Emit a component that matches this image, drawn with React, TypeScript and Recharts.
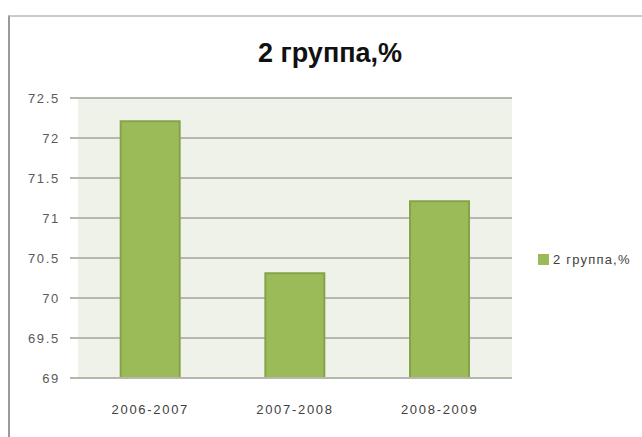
import React from 'react';
import { BarChart, Bar, XAxis, YAxis, CartesianGrid, Legend } from 'recharts';

const categories = ['2006-2007', '2007-2008', '2008-2009'];
const values = [72.21, 70.31, 71.21];
const yTicks = [69, 69.5, 70, 70.5, 71, 71.5, 72, 72.5];
const seriesName = '2 группа,%';
const title = '2 группа,%';

const data = categories.map((c, i) => ({ category: c, value: values[i] }));

const FONT = 'Arial, "Liberation Sans", sans-serif';

const LegendContent = () => (
  <div style={{ display: 'flex', alignItems: 'center', fontFamily: FONT, fontSize: 13, color: '#404040', letterSpacing: 1.2, whiteSpace: 'nowrap' }}>
    <span style={{ display: 'inline-block', width: 11, height: 11, background: '#9BBB59', marginRight: 4 }} />
    <span>{seriesName}</span>
  </div>
);

export default function App() {
  return (
    <div style={{ position: 'absolute', left: 0, top: 0, width: 642, height: 437, overflow: 'hidden', background: '#fff' }}>
      <div style={{ position: 'absolute', left: 8, top: 15, width: 700, height: 500, borderLeft: '2px solid #9a9a9a', borderTop: '2px solid #cacaca' }} />
      <div style={{ position: 'absolute', left: 0, top: 40, width: 660, textAlign: 'center', fontFamily: FONT, fontSize: 27, fontWeight: 'bold', lineHeight: '27px', color: '#111' }}>
        {title}
      </div>
      <div style={{ position: 'absolute', left: 0, top: 0 }}>
        <BarChart width={642} height={437} data={data} margin={{ top: 98, right: 26, left: 0, bottom: 0 }} barCategoryGap="29.5%">
          <CartesianGrid vertical={false} fill="#EFF2E8" stroke="#B6B8B0" strokeWidth={2} />
          <XAxis
            dataKey="category"
            height={59}
            tickLine={false}
            tickSize={0}
            tickMargin={27}
            axisLine={{ stroke: '#B6B8B0', strokeWidth: 2 }}
            tick={{ fontFamily: FONT, fontSize: 13, fill: '#404040', letterSpacing: 1.7 }}
          />
          <YAxis
            width={78}
            domain={[69, 72.5]}
            ticks={yTicks}
            allowDataOverflow
            axisLine={false}
            tickLine={{ stroke: '#B6B8B0', strokeWidth: 2 }}
            tickSize={8}
            tickMargin={10}
            tickFormatter={(v: number) => String(v)}
            tick={{ fontFamily: FONT, fontSize: 13, fill: '#595959', letterSpacing: 1.7 }}
          />
          <Legend
            layout="vertical"
            align="right"
            verticalAlign="middle"
            content={LegendContent}
            wrapperStyle={{ position: 'absolute', left: 538, top: 252, width: 104 }}
          />
          <Bar dataKey="value" name={seriesName} fill="#9BBB59" stroke="#86A24A" strokeWidth={2} isAnimationActive={false} />
        </BarChart>
      </div>
    </div>
  );
}
